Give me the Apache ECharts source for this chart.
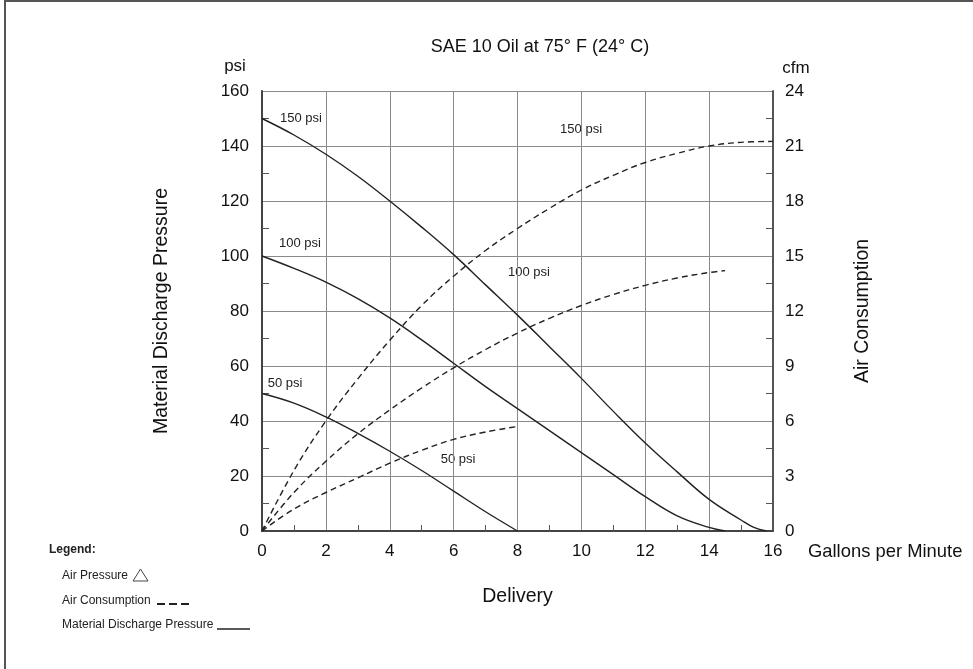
<!DOCTYPE html>
<html>
<head>
<meta charset="utf-8">
<script src="https://cdn.jsdelivr.net/npm/echarts@6/dist/echarts.min.js"></script>
<style>
  html, body { margin: 0; padding: 0; background: #fff; }
  #main { width: 973px; height: 669px; }
</style>
</head>
<body>
<div id="main"></div>
<script>
// delivery (gpm) vs material discharge pressure (psi), solid lines
var gpm150 = [0, 1, 2, 3, 4, 5, 6, 7, 8, 9, 10, 11, 12, 13, 14, 15, 15.4, 15.8];
var psi150 = [150, 144, 137, 129, 120, 110.5, 100.5, 89.5, 78.5, 67, 55.5, 43.5, 32, 21.5, 11.5, 4, 1.3, 0];
var gpm100 = [0, 1, 2, 3, 4, 5, 6, 7, 8, 9, 10, 11, 12, 13, 14, 14.5];
var psi100 = [100, 95.5, 90.5, 84.5, 77.5, 69.5, 61, 52.5, 44.5, 36.5, 28.5, 20.5, 12.5, 5.5, 1.3, 0];
var gpm50 = [0, 1, 2, 3, 4, 5, 6, 7, 8];
var psi50 = [50, 46.5, 41.5, 35.5, 29, 22, 14.5, 7, 0];

// delivery (gpm) vs air consumption (cfm), dashed lines
var gpmAir150 = [0, 1, 2, 3, 4, 5, 6, 7, 8, 9, 10, 11, 12, 13, 14, 15, 16];
var cfm150 = [0, 3.3, 6, 8.3, 10.4, 12.3, 13.9, 15.3, 16.5, 17.6, 18.6, 19.4, 20.1, 20.6, 21, 21.2, 21.25];
var gpmAir100 = [0, 1, 2, 3, 4, 5, 6, 7, 8, 9, 10, 11, 12, 13, 14, 14.5];
var cfmAir100 = [0, 2.1, 3.8, 5.3, 6.6, 7.8, 8.9, 9.9, 10.8, 11.6, 12.3, 12.9, 13.4, 13.8, 14.1, 14.2];
var gpmAir50 = [0, 1, 2, 3, 4, 5, 6, 7, 8];
var cfmAir50 = [0, 1.2, 2.1, 2.9, 3.7, 4.4, 5, 5.4, 5.7];

// curve labels, in data units of the left axis
var labelText = ["150 psi", "100 psi", "50 psi", "150 psi", "100 psi", "50 psi"];
var labelGpm = [1.22, 1.19, 0.72, 9.99, 8.36, 6.14];
var labelPsi = [150.2, 104.7, 53.5, 146.2, 94.2, 26.2];

const textColor = "#111";
const lineColor = "#222";
const font = "'Liberation Sans', Arial, sans-serif";

function pairs(xs, ys) {
  var out = [];
  for (var i = 0; i < xs.length; i++) out.push([xs[i], ys[i]]);
  return out;
}

function curve(name, xs, ys, axis, dashed) {
  return {
    name: name,
    type: "line",
    yAxisIndex: axis,
    data: pairs(xs, ys),
    smooth: 0.4,
    symbol: "none",
    silent: true,
    lineStyle: { color: lineColor, width: 1.4, type: dashed ? [6, 4] : "solid" }
  };
}

var myChart = echarts.init(document.getElementById("main"));

var legendText = { fontFamily: font, fontSize: 12, fill: "#222" };
var nameStyle = { color: textColor, fontSize: 19.5, fontFamily: font };

var option = {
  animation: false,
  backgroundColor: "#fff",
  grid: { left: 262, right: 200, top: 91, bottom: 138 },
  xAxis: {
    type: "value",
    min: 0, max: 16, interval: 2,
    name: "Delivery",
    nameLocation: "middle",
    nameGap: 56,
    nameTextStyle: nameStyle,
    axisLine: { lineStyle: { color: "#444", width: 2 } },
    axisTick: { show: false, inside: true },
    minorTick: { show: true, splitNumber: 2, length: 6, lineStyle: { color: "#555", width: 1 } },
    axisLabel: { color: textColor, fontSize: 17, fontFamily: font, margin: 12 },
    splitLine: { show: true, lineStyle: { color: "#8a8a8a", width: 1 } }
  },
  yAxis: [{
    type: "value",
    min: 0, max: 160, interval: 20,
    name: "Material Discharge Pressure",
    nameLocation: "middle",
    nameGap: 90,
    nameTextStyle: nameStyle,
    axisLine: { show: true, lineStyle: { color: "#444", width: 2 } },
    axisTick: { show: false, inside: true },
    minorTick: { show: true, splitNumber: 2, length: 7, lineStyle: { color: "#555", width: 1 } },
    axisLabel: { color: textColor, fontSize: 17, fontFamily: font, margin: 13 },
    splitLine: { show: true, lineStyle: { color: "#8a8a8a", width: 1 } }
  }, {
    type: "value",
    position: "right",
    min: 0, max: 24, interval: 3,
    name: "Air Consumption",
    nameLocation: "middle",
    nameGap: 80,
    nameRotate: 90,
    nameTextStyle: nameStyle,
    axisLine: { show: true, lineStyle: { color: "#555", width: 2 } },
    axisTick: { show: false, inside: true },
    minorTick: { show: true, splitNumber: 2, length: 7, lineStyle: { color: "#555", width: 1 } },
    axisLabel: { color: textColor, fontSize: 17, fontFamily: font, margin: 12 },
    splitLine: { show: false }
  }],
  series: [
    curve("150 psi pressure", gpm150, psi150, 0, false),
    curve("100 psi pressure", gpm100, psi100, 0, false),
    curve("50 psi pressure", gpm50, psi50, 0, false),
    curve("150 psi air", gpmAir150, cfm150, 1, true),
    curve("100 psi air", gpmAir100, cfmAir100, 1, true),
    curve("50 psi air", gpmAir50, cfmAir50, 1, true)
  ],
  graphic: [
    // frame
    { type: "line", shape: { x1: 5, y1: 1, x2: 973, y2: 1 }, style: { stroke: "#555", lineWidth: 2 } },
    { type: "line", shape: { x1: 5, y1: 0, x2: 5, y2: 669 }, style: { stroke: "#555", lineWidth: 2 } },
    { type: "text", x: 540, y: 47, style: { text: "SAE 10 Oil at 75° F (24° C)", fontFamily: font, fontSize: 18, fill: textColor, align: "center", verticalAlign: "middle" } },
    { type: "text", x: 235, y: 66, style: { text: "psi", fontFamily: font, fontSize: 17, fill: textColor, align: "center", verticalAlign: "middle" } },
    { type: "text", x: 796, y: 68, style: { text: "cfm", fontFamily: font, fontSize: 17, fill: textColor, align: "center", verticalAlign: "middle" } },
    { type: "text", x: 808, y: 552, style: { text: "Gallons per Minute", fontFamily: font, fontSize: 18.4, fill: textColor, align: "left", verticalAlign: "middle" } },
    // legend
    { type: "text", x: 49, y: 550, style: Object.assign({ text: "Legend:", fontWeight: "bold", verticalAlign: "middle" }, legendText) },
    { type: "text", x: 62, y: 576, style: Object.assign({ text: "Air Pressure", verticalAlign: "middle" }, legendText) },
    { type: "polygon", shape: { points: [[133, 581], [148, 581], [140.5, 569]] }, style: { fill: "none", stroke: "#444", lineWidth: 1 } },
    { type: "text", x: 62, y: 601, style: Object.assign({ text: "Air Consumption", verticalAlign: "middle" }, legendText) },
    { type: "line", shape: { x1: 157, y1: 604, x2: 190, y2: 604 }, style: { stroke: "#222", lineWidth: 2, lineDash: [8, 4] } },
    { type: "text", x: 62, y: 625, style: Object.assign({ text: "Material Discharge Pressure", verticalAlign: "middle" }, legendText) },
    { type: "line", shape: { x1: 217, y1: 629, x2: 250, y2: 629 }, style: { stroke: "#222", lineWidth: 1.5 } }
  ]
};

myChart.setOption(option);

// put the curve labels where the axes say
var labels = [];
for (var i = 0; i < labelText.length; i++) {
  var p = myChart.convertToPixel({ xAxisIndex: 0, yAxisIndex: 0 }, [labelGpm[i], labelPsi[i]]);
  labels.push({
    type: "text", x: p[0], y: p[1],
    style: { text: labelText[i], fontFamily: font, fontSize: 13, fill: "#222", align: "center", verticalAlign: "middle" }
  });
}
myChart.setOption({ graphic: option.graphic.concat(labels) });

window.addEventListener("resize", function () {
  myChart.resize();
});
</script>
</body>
</html>
